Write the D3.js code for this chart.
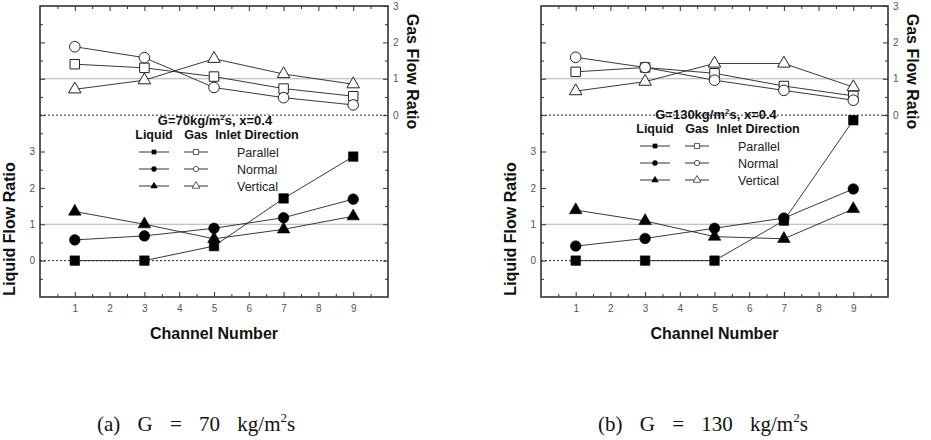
<!DOCTYPE html>
<html><head><meta charset="utf-8">
<script src="https://cdn.jsdelivr.net/npm/d3@7"></script>
<style>body{margin:0;background:#fff} svg{display:block}</style>
</head><body>
<svg id="c" width="931" height="440"></svg>
<script>
// ---------- data ----------
const channels = [1, 3, 5, 7, 9];
const xTickValues = [1, 2, 3, 4, 5, 6, 7, 8, 9];
const liquidTickLabels = [0, 1, 2, 3];
const gasTickLabels = [0, 1, 2, 3];
const directions = ["Parallel", "Normal", "Vertical"];
const massFlux = [70, 130];
const quality = 0.4;
const captionLetters = ["(a)", "(b)"];

// G = 70 kg/m2s
const liq70Parallel = [0.00, 0.00, 0.40, 1.71, 2.86];
const liq70Normal   = [0.57, 0.68, 0.89, 1.18, 1.69];
const liq70Vertical = [1.35, 1.00, 0.60, 0.86, 1.22];
const gas70Parallel = [1.40, 1.30, 1.06, 0.73, 0.52];
const gas70Normal   = [1.88, 1.58, 0.76, 0.48, 0.28];
const gas70Vertical = [0.71, 0.96, 1.55, 1.13, 0.85];

// G = 130 kg/m2s
const liq130Parallel = [0.00, 0.00, 0.00, 1.10, 3.86];
const liq130Normal   = [0.40, 0.61, 0.89, 1.17, 1.97];
const liq130Vertical = [1.39, 1.09, 0.66, 0.60, 1.42];
const gas130Parallel = [1.19, 1.31, 1.15, 0.80, 0.53];
const gas130Normal   = [1.59, 1.31, 0.96, 0.68, 0.41];
const gas130Vertical = [0.66, 0.92, 1.42, 1.42, 0.77];

// ---------- drawing ----------
const svg = d3.select("#c");
const symTypes = [d3.symbolSquare, d3.symbolCircle, d3.symbolTriangle];
const symSizes = [90, 88, 68];
const legSizes = [22, 22, 24];
const legOpenSizes = [26, 22, 26];
const ink = "#222";

const panels = [
  {x0: 40, x1: 388, liq: [liq70Parallel, liq70Normal, liq70Vertical],
   gas: [gas70Parallel, gas70Normal, gas70Vertical], legY: 120, capX: 97},
  {x0: 541, x1: 888, liq: [liq130Parallel, liq130Normal, liq130Vertical],
   gas: [gas130Parallel, gas130Normal, gas130Vertical], legY: 114, capX: 598}
];

panels.forEach((p, pi) => {
  const g = svg.append("g");
  const x = d3.scaleLinear([0, 10], [p.x0, p.x1]);
  const yL = d3.scaleLinear([-1, 7], [297, 6]);
  const yG = d3.scaleLinear([-5, 3], [297, 6]);
  const top = yL.range()[1], bot = yL.range()[0];

  // reference lines
  [[yL(1), "#b0b0b0", null], [yG(1), "#b0b0b0", null],
   [yL(0), "#222", "2,2"], [yG(0), "#222", "2,2"]].forEach(([yy, c, d]) => {
    g.append("line").attr("x1", p.x0).attr("x2", p.x1).attr("y1", yy).attr("y2", yy)
      .attr("stroke", c).attr("stroke-width", 1).attr("stroke-dasharray", d);
  });

  const styleAxis = sel => {
    sel.select(".domain").remove();
    sel.selectAll("line").attr("stroke", "#333");
    sel.selectAll("text").attr("fill", "#555").style("font-family", "Liberation Sans, Arial, sans-serif").style("font-size", "10px");
  };
  const halves = d3.range(0.5, 10, 1);
  // bottom
  g.append("g").attr("transform", `translate(0,${bot})`)
    .call(d3.axisBottom(x).tickValues(xTickValues).tickSize(-5).tickPadding(8).tickFormat(d3.format("d"))).call(styleAxis);
  g.append("g").attr("transform", `translate(0,${bot})`)
    .call(d3.axisBottom(x).tickValues(halves).tickSize(-3).tickFormat("")).call(styleAxis);
  // top
  g.append("g").attr("transform", `translate(0,${top})`)
    .call(d3.axisTop(x).tickValues(xTickValues).tickSize(-5).tickFormat("")).call(styleAxis);
  g.append("g").attr("transform", `translate(0,${top})`)
    .call(d3.axisTop(x).tickValues(halves).tickSize(-3).tickFormat("")).call(styleAxis);
  // left (liquid)
  const lMaj = d3.range(0, 7);
  const lMin = d3.range(-0.5, 7, 1);
  g.append("g").attr("transform", `translate(${p.x0},0)`)
    .call(d3.axisLeft(yL).tickValues(lMaj).tickSize(-5).tickPadding(5)
      .tickFormat(v => liquidTickLabels.includes(v) ? String(v) : "")).call(styleAxis);
  g.append("g").attr("transform", `translate(${p.x0},0)`)
    .call(d3.axisLeft(yL).tickValues(lMin).tickSize(-3).tickFormat("")).call(styleAxis);
  // right (gas)
  const gMaj = d3.range(-4, 4);
  const gMin = d3.range(-4.5, 3, 1);
  g.append("g").attr("transform", `translate(${p.x1},0)`)
    .call(d3.axisRight(yG).tickValues(gMaj).tickSize(-5).tickPadding(5)
      .tickFormat(v => gasTickLabels.includes(v) ? String(v) : "")).call(styleAxis);
  g.append("g").attr("transform", `translate(${p.x1},0)`)
    .call(d3.axisRight(yG).tickValues(gMin).tickSize(-3).tickFormat("")).call(styleAxis);

  // frame
  g.append("rect").attr("x", p.x0).attr("y", top).attr("width", p.x1 - p.x0).attr("height", bot - top)
    .attr("fill", "none").attr("stroke", "#333").attr("stroke-width", 1.6);

  // series lines
  const lineL = d3.line().x((d, i) => x(channels[i])).y(d => yL(d));
  const lineG = d3.line().x((d, i) => x(channels[i])).y(d => yG(d));
  p.gas.forEach(s => g.append("path").attr("d", lineG(s)).attr("fill", "none").attr("stroke", ink).attr("stroke-width", 0.9));
  p.liq.forEach(s => g.append("path").attr("d", lineL(s)).attr("fill", "none").attr("stroke", ink).attr("stroke-width", 0.9));

  // markers
  p.gas.forEach((s, k) => {
    g.selectAll(null).data(s).join("path")
      .attr("transform", (d, i) => `translate(${x(channels[i])},${yG(d)})`)
      .attr("d", d3.symbol().type(symTypes[k]).size(symSizes[k]))
      .attr("fill", "#fff").attr("stroke", ink).attr("stroke-width", 1);
  });
  p.liq.forEach((s, k) => {
    g.selectAll(null).data(s).join("path")
      .attr("transform", (d, i) => `translate(${x(channels[i])},${yL(d)})`)
      .attr("d", d3.symbol().type(symTypes[k]).size(symSizes[k]))
      .attr("fill", "#000").attr("stroke", "#000").attr("stroke-width", 0.6);
  });

  // axis titles
  const bold = "Liberation Sans, Arial, sans-serif";
  g.append("text").attr("x", (p.x0 + p.x1) / 2).attr("y", 339).attr("text-anchor", "middle")
    .style("font-family", bold).style("font-weight", "bold").style("font-size", "16px").attr("fill", "#111")
    .text("Channel Number");
  g.append("text").attr("transform", `translate(${p.x0 - 25},${yL(0.87)}) rotate(-90)`).attr("text-anchor", "middle")
    .style("font-family", bold).style("font-weight", "bold").style("font-size", "16px").attr("fill", "#111")
    .text("Liquid Flow Ratio");
  g.append("text").attr("transform", `translate(${p.x1 + 19},${yG(1.2)}) rotate(90)`).attr("text-anchor", "middle")
    .style("font-family", bold).style("font-weight", "bold").style("font-size", "16px").attr("fill", "#111")
    .text("Gas Flow Ratio");

  // legend
  const L = p.x0;
  const ty = p.legY;
  const t = g.append("text").attr("x", L + 175).attr("y", ty + 5).attr("text-anchor", "middle")
    .style("font-family", bold).style("font-weight", "bold").style("font-size", "13px").attr("fill", "#111");
  t.append("tspan").text(`G=${massFlux[pi]}kg/m`);
  t.append("tspan").attr("dy", -5).style("font-size", "8px").text("2");
  t.append("tspan").attr("dy", 5).text(`s, x=${quality}`);
  const hy = ty + 19;
  [["Liquid", L + 114], ["Gas", L + 156], ["Inlet Direction", L + 217]].forEach(([s, xx]) => {
    g.append("text").attr("x", xx).attr("y", hy).attr("text-anchor", "middle")
      .style("font-family", bold).style("font-weight", "bold").style("font-size", "12.5px").attr("fill", "#111").text(s);
  });
  directions.forEach((dname, k) => {
    const ry = ty + 32 + 17 * k;
    g.append("line").attr("x1", L + 99).attr("x2", L + 129).attr("y1", ry).attr("y2", ry).attr("stroke", "#333").attr("stroke-width", 1);
    g.append("path").attr("transform", `translate(${L + 114},${ry})`)
      .attr("d", d3.symbol().type(symTypes[k]).size(legSizes[k])).attr("fill", "#000");
    g.append("line").attr("x1", L + 144).attr("x2", L + 168).attr("y1", ry).attr("y2", ry).attr("stroke", "#333").attr("stroke-width", 1);
    g.append("path").attr("transform", `translate(${L + 156},${ry})`)
      .attr("d", d3.symbol().type(symTypes[k]).size(legOpenSizes[k])).attr("fill", "#fff").attr("stroke", "#333").attr("stroke-width", 0.8);
    g.append("text").attr("x", L + 197).attr("y", ry + 4.5)
      .style("font-family", bold).style("font-size", "12.5px").attr("fill", "#222").text(dname);
  });

  // caption
  const c = svg.append("text").attr("x", p.capX).attr("y", 431)
    .style("font-family", "Liberation Serif, DejaVu Serif, serif").style("font-size", "21px")
    .style("word-spacing", "12px").style("white-space", "pre").attr("fill", "#111");
  c.append("tspan").text(`${captionLetters[pi]} G = ${massFlux[pi]} kg/m`);
  c.append("tspan").attr("dy", -9).style("font-size", "13px").text("2");
  c.append("tspan").attr("dy", 9).text("s");
});
</script>
</body></html>
